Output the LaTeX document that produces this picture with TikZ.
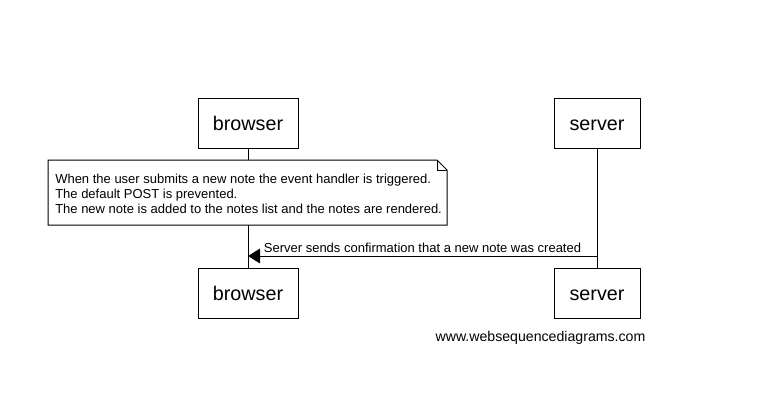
\documentclass[tikz,border=0pt]{standalone}
\usepackage{fontspec}
\setmainfont{Liberation Sans}
\usetikzlibrary{arrows.meta}
\begin{document}
\begin{tikzpicture}[x=0.75pt,y=-0.75pt,
  actor/.style={draw, line width=0.75pt, fill=white, minimum height=37.5pt, inner sep=0pt, text height=13.6pt, text depth=3.1pt, font=\fontsize{14.8pt}{17pt}\selectfont},
  life/.style={line width=0.75pt},
  msg/.style={line width=0.75pt, -{Triangle[length=9pt,width=11pt]}},
  small/.style={font=\fontsize{9.75pt}{11.4pt}\selectfont}]
\useasboundingbox[fill=white] (0,0) rectangle (770,411);
\node[actor, minimum width=75pt] (b1) at (248,123) {browser};
\node[actor, minimum width=64.5pt] (s1) at (597,123) {server};
\node[actor, minimum width=75pt] (b2) at (248,293.5) {browser};
\node[actor, minimum width=64.5pt] (s2) at (597,293.5) {server};
\draw[life] (b1.south) -- (b2.north);
\draw[life] (s1.south) -- (s2.north);
% note
\draw[line width=0.75pt, fill=white] (48,160) -- (437,160) -- (447,170) -- (447,225) -- (48,225) -- cycle;
\draw[line width=0.75pt] (437,160) -- (437,170) -- (447,170);
\node[small, anchor=west, align=left, inner sep=0pt] (note) at (55,194) {When the user submits a new note the event handler is triggered.\\The default POST is prevented.\\The new note is added to the notes list and the notes are rendered.};
% message
\coordinate (ms) at (597,256);
\coordinate (mb) at (248,256);
\draw[msg] (ms) -- (mb) node[midway, above, small, inner sep=0pt, yshift=1.8pt, xshift=0pt] {Server sends confirmation that a new note was created};
\node[font=\fontsize{10.6pt}{12pt}\selectfont, inner sep=0pt] (wm) at (540.5,338) {www.websequencediagrams.com};
\end{tikzpicture}
\end{document}
